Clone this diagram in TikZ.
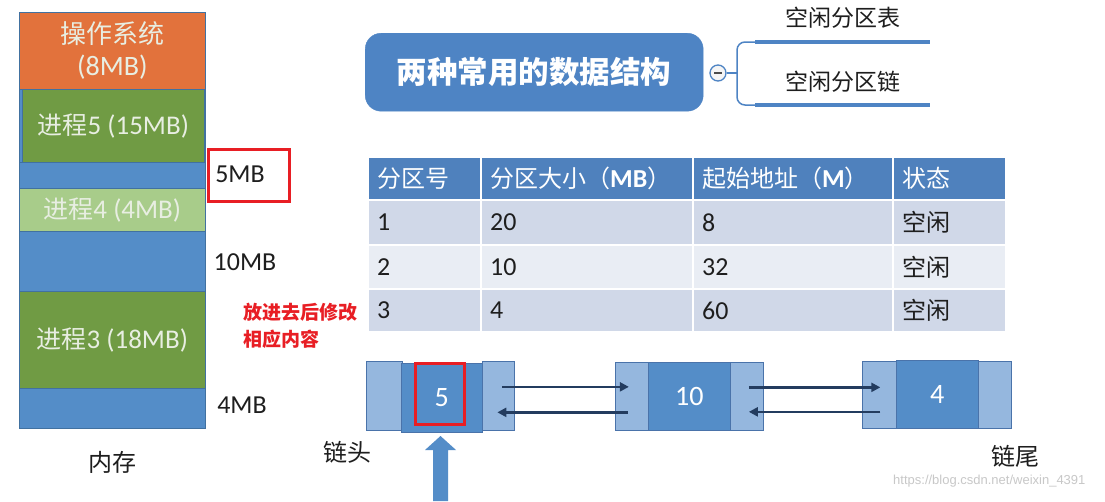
\documentclass[tikz,border=0pt]{standalone}
\usepackage{fontspec}
\setmainfont{Carlito}[Scale=1.08]
\newfontfamily\cjk{Noto Sans CJK SC}
\newfontfamily\wmfont{Liberation Sans}
\usetikzlibrary{calc,arrows.meta}
\definecolor{memblue}{RGB}{84,141,200}
\definecolor{memedge}{RGB}{65,113,160}
\definecolor{osorange}{RGB}{226,114,60}
\definecolor{pgreen}{RGB}{112,155,68}
\definecolor{plgreen}{RGB}{168,204,138}
\definecolor{mmblue}{RGB}{78,132,196}
\definecolor{hdblue}{RGB}{79,129,189}
\definecolor{rowa}{RGB}{208,216,232}
\definecolor{rowb}{RGB}{233,237,244}
\definecolor{lightnode}{RGB}{149,183,222}
\definecolor{nodeedge}{RGB}{74,115,170}
\definecolor{navy}{RGB}{35,60,95}
\definecolor{redc}{RGB}{232,30,36}
\definecolor{inktext}{RGB}{30,30,30}
\definecolor{softwhite}{RGB}{232,238,226}
\definecolor{wmgray}{RGB}{200,200,200}
\newcommand\fsz[1]{\fontsize{#1}{#1}\selectfont}
\newcommand\tcell[8]{%
  \node[cellbox, fill=#6, minimum width=#4, minimum height=#5] (#1) at (#2,#3) {};
  \node[celltext, text=#7] (#1t) at ($(#1.west)+(10,0)$) {#8};}
\begin{document}
\begin{tikzpicture}[x=1pt,y=-1pt,
  blk/.style={draw=memedge, line width=0.6, inner sep=0, anchor=north west, align=center},
  memlabel/.style={font=\fsz{24}, text=inktext},
  cellbox/.style={draw=white, line width=2, inner sep=0, anchor=north west},
  celltext/.style={anchor=west, font=\fsz{24}, inner sep=0},
  lnode/.style={draw=nodeedge, line width=0.7, fill=lightnode, inner sep=0, anchor=north west},
  dnode/.style={draw=nodeedge, line width=0.7, fill=memblue, inner sep=0, anchor=north west, text=white, font=\fsz{26}},
  lnk/.style={draw=navy, line width=2.5, -{Triangle[length=9pt,width=9pt]}},
  caption/.style={font=\fsz{24}\cjk, text=inktext},
  redbox/.style={draw=redc, line width=2.5, inner sep=0, anchor=north west}]
\useasboundingbox[fill=white] (0,0) rectangle (1105,501);

% ---------- memory column ----------
\node[blk, fill=memblue, minimum width=186, minimum height=339] (membg) at (19,89) {};
\node[blk, fill=osorange, minimum width=186, minimum height=77, text=softwhite, font=\fontsize{26}{32}\selectfont] (os) at (19,12) {{\cjk 操作系统}\\(8MB)};
\node[blk, fill=pgreen, minimum width=182, minimum height=73, text=softwhite, font=\fsz{25}] (p5) at (22,89) {{\cjk 进程}5 (15MB)};
\node[blk, fill=memblue, minimum width=186, minimum height=26] (free1) at (19,162) {};
\node[blk, fill=plgreen, minimum width=186, minimum height=43, text=softwhite, font=\fsz{25}] (p4) at (19,188) {{\cjk 进程}4 (4MB)};
\node[blk, fill=memblue, minimum width=186, minimum height=60] (free2) at (19,231) {};
\node[blk, fill=pgreen, minimum width=186, minimum height=97, text=softwhite, font=\fsz{25}] (p3) at (19,291) {{\cjk 进程}3 (18MB)};
\node[blk, fill=memblue, minimum width=186, minimum height=40] (free3) at (19,388) {};

\node[redbox, minimum width=81, minimum height=52] (selbox) at (207,148) {};
\node[memlabel] (m5) at (240,174) {5MB};
\node[memlabel] (m10) at (245,262) {10MB};
\node[memlabel] (m4) at (242,405) {4MB};
\node[caption] (mem) at (112,462) {内存};
\node[anchor=west, text=redc, font=\fsz{19}\cjk\bfseries, inner sep=0] (note1) at (243,312) {放进去后修改};
\node[anchor=west, text=redc, font=\fsz{19}\cjk\bfseries, inner sep=0] (note2) at (243,339) {相应内容};

% ---------- mind map ----------
\node[fill=mmblue, draw=mmblue, rounded corners=16, minimum width=338, minimum height=78, anchor=north west, text=white, font=\fsz{30.5}\cjk\bfseries] (mm) at (365,33) {两种常用的数据结构};
\node[circle, draw=mmblue, line width=1.3, fill=gray!8, minimum size=16, inner sep=0] (col) at (718,73) {};
\draw[line width=1.3, gray!60!black] ($(col.center)+(-4,0)$) -- ($(col.center)+(4,0)$);
\coordinate (fork) at (737,73);
\coordinate (b1) at (760,42);
\coordinate (b2) at (760,105);
\coordinate (e1) at (930,42);
\coordinate (e2) at (930,105);
\draw[mmblue, line width=1.5] (col.east) -- (fork);
\draw[mmblue, line width=1.5, rounded corners=8] (b1) -- (fork |- b1) -- (fork |- b2) -- (b2);
\draw[mmblue, line width=4] ($(b1)+(-5,0)$) -- (e1);
\draw[mmblue, line width=4] ($(b2)+(-5,0)$) -- (e2);
\node[font=\fsz{23}\cjk, text=inktext] (br1) at (843,18) {空闲分区表};
\node[font=\fsz{23}\cjk, text=inktext] (br2) at (843,82) {空闲分区链};

% ---------- table ----------
\tcell{h1}{367}{156}{113}{43}{hdblue}{white}{\cjk 分区号}
\tcell{h2}{480}{156}{212}{43}{hdblue}{white}{{\cjk 分区大小（}\textbf{MB}{\cjk ）}}
\tcell{h3}{692}{156}{200}{43}{hdblue}{white}{{\cjk 起始地址（}\textbf{M}{\cjk ）}}
\tcell{h4}{892}{156}{113}{43}{hdblue}{white}{\cjk 状态}
\tcell{r1a}{367}{199}{113}{45}{rowa}{inktext}{1}
\tcell{r1b}{480}{199}{212}{45}{rowa}{inktext}{20}
\tcell{r1c}{692}{199}{200}{45}{rowa}{inktext}{8}
\tcell{r1d}{892}{199}{113}{45}{rowa}{inktext}{\cjk 空闲}
\tcell{r2a}{367}{244}{113}{44}{rowb}{inktext}{2}
\tcell{r2b}{480}{244}{212}{44}{rowb}{inktext}{10}
\tcell{r2c}{692}{244}{200}{44}{rowb}{inktext}{32}
\tcell{r2d}{892}{244}{113}{44}{rowb}{inktext}{\cjk 空闲}
\tcell{r3a}{367}{288}{113}{43}{rowa}{inktext}{3}
\tcell{r3b}{480}{288}{212}{43}{rowa}{inktext}{4}
\tcell{r3c}{692}{288}{200}{43}{rowa}{inktext}{60}
\tcell{r3d}{892}{288}{113}{43}{rowa}{inktext}{\cjk 空闲}

% ---------- linked list ----------
\node[lnode, minimum width=36, minimum height=69] (n1l) at (366,361) {};
\node[lnode, minimum width=32, minimum height=69] (n1r) at (482,361) {};
\node[dnode, minimum width=81, minimum height=69] (n1m) at (401,363) {5};
\node[redbox, minimum width=49, minimum height=61] (selnode) at (414,362) {};

\node[lnode, minimum width=33, minimum height=68] (n2l) at (615,362) {};
\node[lnode, minimum width=33, minimum height=68] (n2r) at (730,362) {};
\node[dnode, minimum width=82, minimum height=68] (n2m) at (648,362) {10};

\node[lnode, minimum width=34, minimum height=67] (n3l) at (862,361) {};
\node[lnode, minimum width=33, minimum height=67] (n3r) at (978,361) {};
\node[dnode, minimum width=82, minimum height=68] (n3m) at (896,360) {4};

\coordinate (a1) at ($(n1r.center)+(4,-9)$);
\coordinate (t1) at ($(n2l.center)+(-3,0)$);
\coordinate (a2) at ($(n2l.center)+(-4,16)$);
\coordinate (t2) at ($(n1r.center)+(-1,0)$);
\coordinate (a3) at ($(n2r.center)+(2,-9)$);
\coordinate (t3) at ($(n3l.center)+(1,0)$);
\coordinate (a4) at ($(n3l.center)+(1,17)$);
\coordinate (t4) at ($(n2r.center)+(2,0)$);
\draw[lnk] (a1) -- (a1 -| t1);
\draw[lnk] (a2) -- (a2 -| t2);
\draw[lnk] (a3) -- (a3 -| t3);
\draw[lnk] (a4) -- (a4 -| t4);

\fill[memblue] (433,501) -- (433,450) -- (425,450) -- (440.5,436) -- (456,450) -- (448,450) -- (448,501) -- cycle;

\node[caption] (head) at (347,452) {链头};
\node[caption] (tail) at (1015,456) {链尾};
\node[anchor=west, text=wmgray, font=\fsz{13}\wmfont, inner sep=0] (wm) at (893,481) {https://blog.csdn.net/weixin\_4391};
\end{tikzpicture}
\end{document}
